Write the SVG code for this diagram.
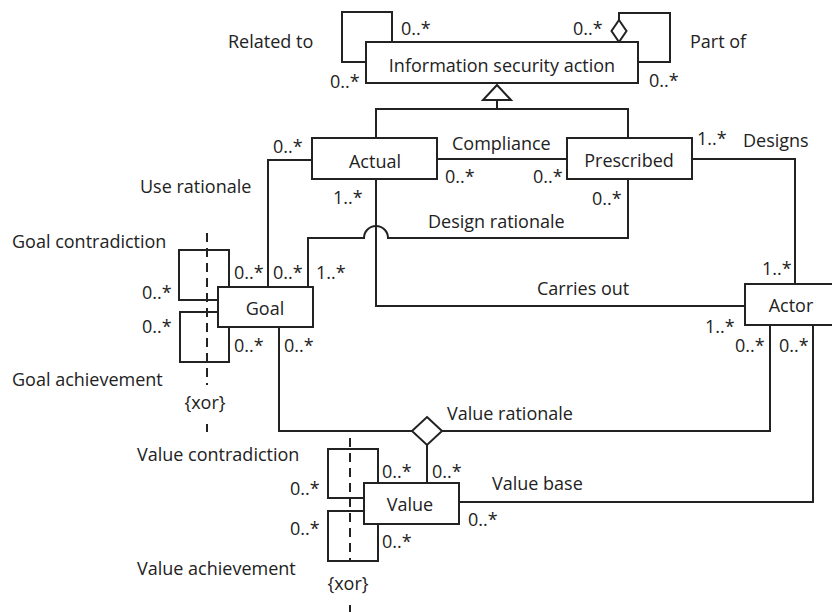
<svg xmlns="http://www.w3.org/2000/svg" width="832" height="612" viewBox="0 0 832 612">
<style>
text{font-family:"Open Sans","Liberation Sans",sans-serif;font-size:18px;fill:#222}
.c{text-anchor:middle}
.box{fill:#fff;stroke:#222;stroke-width:2}
.ln{fill:none;stroke:#222;stroke-width:2}
.dash{fill:none;stroke:#222;stroke-width:2;stroke-dasharray:9,6}
</style>
<rect width="832" height="612" fill="#fff"/>
<g id="connectors">
<path class="ln" d="M392,42 V12 H342 V62 H366"/>
<path class="ln" d="M619,20 V13 H670 V62 H638"/>
<polygon class="box" points="619,20 626.5,31 619,42 611.5,31"/>
<path class="ln" d="M376,138 V109 H628 V138 M497,109 V100"/>
<polygon class="box" points="497,85 483,100 511,100"/>
<path class="ln" d="M437,159 H567"/>
<path class="ln" d="M692,159 H795 V284"/>
<path class="ln" d="M312,160 H268 V287"/>
<path class="ln" d="M376,179 V306 H745"/>
<path class="ln" d="M628,179 V238 H388 A12,12 0 0 0 364,238 H308 V287"/>
<path class="ln" d="M229,287 V250 H179 V300 H218"/>
<path class="ln" d="M218,312 H180 V362 H229 V327"/>
<path class="dash" d="M207,233 V385"/>
<path class="ln" d="M207,424 V432"/>
<path class="ln" d="M279,327 V431 H412 M442,431 H770 V325 M427,445 V483"/>
<polygon class="box" points="427,417 442,431 427,445 412,431"/>
<path class="ln" d="M459,502 H813 V325"/>
<path class="ln" d="M378,483 V449 H328 V498 H364"/>
<path class="ln" d="M364,511 H328 V561 H378 V524"/>
<path class="dash" d="M350,438 V561"/>
<path class="ln" d="M350,605 V612"/>
</g>
<g id="isa"><rect class="box" x="366" y="42" width="272" height="41"/><text class="c" x="502" y="72">Information security action</text></g>
<g id="actual"><rect class="box" x="312" y="138" width="125" height="41"/><text class="c" x="375" y="168">Actual</text></g>
<g id="prescribed"><rect class="box" x="567" y="138" width="125" height="41"/><text class="c" x="629" y="167">Prescribed</text></g>
<g id="goal"><rect class="box" x="218" y="287" width="95" height="40"/><text class="c" x="265" y="315">Goal</text></g>
<g id="actor"><rect class="box" x="745" y="284" width="96" height="41"/><text class="c" x="791" y="312">Actor</text></g>
<g id="value"><rect class="box" x="364" y="483" width="95" height="41"/><text class="c" x="410" y="511">Value</text></g>
<g id="labels">
<text x="228" y="48">Related to</text>
<text x="401" y="35">0..*</text>
<text x="330" y="88">0..*</text>
<text x="573" y="35">0..*</text>
<text x="690" y="48">Part of</text>
<text x="649" y="87">0..*</text>
<text x="452" y="150">Compliance</text>
<text x="445" y="183">0..*</text>
<text x="533" y="183">0..*</text>
<text x="697" y="145">1..*</text>
<text x="743" y="147">Designs</text>
<text x="592" y="205">0..*</text>
<text x="428" y="228">Design rationale</text>
<text x="273" y="153">0..*</text>
<text x="140" y="193">Use rationale</text>
<text x="333" y="204">1..*</text>
<text x="12" y="248">Goal contradiction</text>
<text x="234" y="279">0..*</text>
<text x="273" y="279">0..*</text>
<text x="316" y="279">1..*</text>
<text x="142" y="299">0..*</text>
<text x="142" y="333">0..*</text>
<text x="234" y="352">0..*</text>
<text x="284" y="352">0..*</text>
<text x="12" y="386">Goal achievement</text>
<text class="c" x="205" y="409">{xor}</text>
<text x="537" y="295">Carries out</text>
<text x="762" y="275">1..*</text>
<text x="705" y="333">1..*</text>
<text x="735" y="352">0..*</text>
<text x="779" y="352">0..*</text>
<text x="447" y="420">Value rationale</text>
<text x="137" y="461">Value contradiction</text>
<text x="382" y="478">0..*</text>
<text x="432" y="478">0..*</text>
<text x="290" y="495">0..*</text>
<text x="492" y="490">Value base</text>
<text x="468" y="526">0..*</text>
<text x="290" y="535">0..*</text>
<text x="382" y="548">0..*</text>
<text x="137" y="575">Value achievement</text>
<text class="c" x="348" y="590">{xor}</text>
</g>
</svg>
